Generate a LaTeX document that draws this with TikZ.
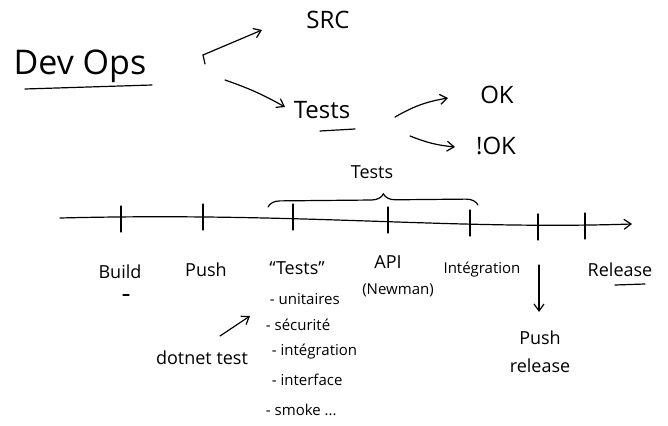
\documentclass[tikz,border=0pt]{standalone}
\usepackage{fontspec}
\setmainfont{Open Sans}
\usetikzlibrary{arrows.meta,decorations.pathreplacing}
\begin{document}
\begin{tikzpicture}[x=1pt,y=-1pt,line width=1.2pt,line cap=round,
  arr/.style={-{Straight Barb[length=7pt,width=10pt]}},
  big/.style={font=\fontsize{34}{38}\selectfont},
  mid/.style={font=\fontsize{24}{28}\selectfont},
  lab/.style={font=\fontsize{18}{22}\selectfont},
  small/.style={font=\fontsize{15}{18}\selectfont},
  tickmark/.style={line width=1.1pt}]
\useasboundingbox (0,0) rectangle (668,425);
% title
\node[big] (devops) at (80,66) {Dev Ops};
\coordinate (ul1) at (25,89); \coordinate (ul2) at (152,85);
\draw (ul1) -- (ul2);
% branches
\coordinate (fork) at (205,64);
\coordinate (forkt) at (203,55);
\node[mid] (src) at (328,20) {SRC};
\node[mid] (tests1) at (322,110) {Tests};
\draw (forkt) -- (fork);
\draw[arr] (forkt) -- (262,30);
\coordinate (b2) at (225,80);
\draw[arr] (b2) to[bend left=5] (285,107);
\coordinate (tu1) at (320,131); \coordinate (tu2) at (355,129);
\draw (tu1) -- (tu2);
\node[mid] (ok) at (497,95) {OK};
\node[mid] (nok) at (496,146) {!OK};
\coordinate (o1) at (395,117); \coordinate (o2) at (448,98);
\draw[arr] (o1) to[bend left=10] (o2);
\coordinate (k1) at (410,136); \coordinate (k2) at (455,147);
\draw[arr] (k1) to[bend right=8] (k2);
% brace
\node[lab] (tests2) at (372,172) {Tests};
\coordinate (br1) at (268,207); \coordinate (br2) at (478,205);
\draw[decorate,decoration={brace,amplitude=12pt,aspect=0.55}] (br1) -- (br2);
% timeline
\coordinate (tl0) at (60,218); \coordinate (tlend) at (632,224);
\draw[arr] (tl0) .. controls (300,212) and (450,230) .. (tlend);
\foreach \x/\y in {121/218,203/216,293/216,388/219,470/222,538/226,585/225}{
  \draw[tickmark] (\x,\y-12) -- (\x,\y+14);
}
% labels
\node[lab] (build) at (120,272) {Build};
\coordinate (bd1) at (123,295); \coordinate (bd2) at (129,295);
\draw (bd1) -- (bd2);
\node[lab] (push) at (206,270) {Push};
\node[lab] (tests3) at (297,268) {“Tests”};
\node[lab] (api) at (388,262) {API};
\node[small] (newman) at (398,290) {(Newman)};
\node[small] (integ) at (482,270) {Intégration};
\node[lab] (release) at (620,270) {Release};
\coordinate (ru1) at (615,285); \coordinate (ru2) at (645,284);
\draw (ru1) -- (ru2);
% push release
\coordinate (pr1) at (539,265);
\node[lab,align=center] (pushrel) at (540,352) {Push\\[6pt]release};
\draw[arr] (pr1) -- (539,312);
% list
\node[small,anchor=west] (l1) at (266,299) {- unitaires};
\node[small,anchor=west] (l2) at (262,325) {- sécurité};
\node[small,anchor=west] (l3) at (268,352) {- intégration};
\node[small,anchor=west] (l4) at (268,380) {- interface};
\node[small,anchor=west] (l5) at (262,410) {- smoke ...};
\node[lab] (dotnet) at (202,358) {dotnet test};
\coordinate (dt) at (220,336);
\draw[arr] (dt) -- (250,316);
\end{tikzpicture}
\end{document}
